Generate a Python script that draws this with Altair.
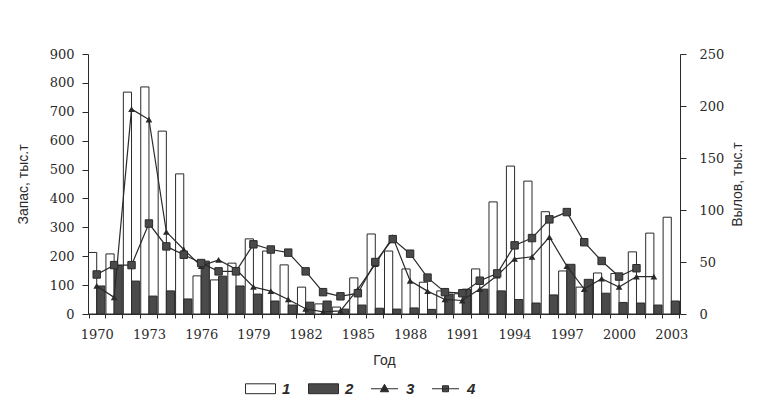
import altair as alt
import pandas as pd

years = list(range(1970, 2004))

# series 1: запас (white bars), тыс.т
stock1 = [213, 208, 768, 786, 633, 485, 132, 118, 176, 260, 218, 170, 93, 35, 24, 125, 277,
          218, 156, 110, 80, 70, 156, 388, 512, 460, 354, 149, 93, 142, 140, 215, 280, 335]
# series 2: запас (dark bars), тыс.т
stock2 = [97, 168, 114, 62, 80, 52, 183, 131, 97, 69, 45, 31, 41, 45, 17, 31, 20,
          17, 21, 16, 69, 86, 86, 80, 50, 38, 66, 172, 120, 72, 40, 38, 31, 45]
# series 3: вылов (triangles), 1970-2002
catch3 = [27, 16, 197, 187, 79, 62, 46, 52, 43, 26, 22, 14, 5, 2, 3, 24, 48,
          74, 32, 22, 14, 13, 24, 37, 53, 55, 74, 46, 24, 34, 26, 36, 36]
# series 4: вылов (squares), 1970-2001
catch4 = [38, 47, 47, 87, 65, 57, 49, 41, 41, 67, 62, 59, 41, 21, 17, 20, 50,
          72, 58, 35, 21, 20, 32, 39, 66, 73, 91, 98, 69, 51, 36, 44]

legend_labels = ["1", "2", "3", "4"]

bars_df = pd.DataFrame(
    [{"year": y, "series": "1", "value": v} for y, v in zip(years, stock1)]
    + [{"year": y, "series": "2", "value": v} for y, v in zip(years, stock2)]
)
lines_df = pd.DataFrame(
    [{"year": y, "series": "3", "value": v} for y, v in zip(years, catch3)]
    + [{"year": y, "series": "4", "value": v} for y, v in zip(years, catch4)]
)
legend_df = pd.DataFrame({"series": legend_labels})

INK = "#2a2a2a"
DARK = "#4a4a4a"
SERIF = "DejaVu Serif"
SANS = "Liberation Sans"

x_enc = alt.X(
    "year:O",
    title="Год",
    scale=alt.Scale(paddingInner=0.06, paddingOuter=0.03),
    axis=alt.Axis(
        labelExpr="(datum.value - 1970) % 3 == 0 ? datum.label : ''",
        labelAngle=0,
        tickBand="extent",
        tickSize=4,
        labelPadding=10,
        titlePadding=12,
    ),
)

bars = alt.Chart(bars_df).mark_bar(stroke=INK, strokeWidth=1).encode(
    x=x_enc,
    xOffset=alt.XOffset("series:N", scale=alt.Scale(paddingInner=0, paddingOuter=0)),
    y=alt.Y(
        "value:Q",
        title="Запас, тыс.т",
        scale=alt.Scale(domain=[0, 900], nice=False),
        axis=alt.Axis(values=list(range(0, 901, 100)), tickSize=6, labelPadding=8,
                      titlePadding=19, grid=False),
    ),
    fill=alt.condition("datum.series == '1'", alt.value("white"), alt.value(DARK)),
)

y_right = alt.Y(
    "value:Q",
    title="Вылов, тыс.т",
    scale=alt.Scale(domain=[0, 250], nice=False, zero=True),
    axis=alt.Axis(orient="right", values=list(range(0, 251, 50)), tickSize=6, labelPadding=13,
                  titleAngle=270, titlePadding=21, grid=False),
)

base_l = alt.Chart(lines_df)
line3 = base_l.transform_filter("datum.series == '3'").mark_line(color=INK, strokeWidth=1.2).encode(
    x=alt.X("year:O"), y=y_right)
pts3 = base_l.transform_filter("datum.series == '3'").mark_point(
    shape="triangle-up", filled=True, color=INK, size=45, opacity=1).encode(
    x=alt.X("year:O"), y=y_right)
line4 = base_l.transform_filter("datum.series == '4'").mark_line(color=INK, strokeWidth=1.2).encode(
    x=alt.X("year:O"), y=y_right)
pts4 = base_l.transform_filter("datum.series == '4'").mark_point(
    shape="square", filled=True, color=DARK, stroke=INK, strokeWidth=1, size=55, opacity=1).encode(
    x=alt.X("year:O"), y=y_right)

rect_path = "M-1,-0.33H1V0.33H-1Z"
tri_path = "M-0.9,0H0.9M0,-0.3L0.28,0.2H-0.28Z"
sq_path = "M-0.9,0H0.9M-0.2,-0.2H0.2V0.2H-0.2Z"

leg = alt.Legend(
    title=None,
    orient="none",
    legendX=157,
    legendY=319,
    direction="horizontal",
    symbolSize=900,
    symbolOpacity=1,
    symbolStrokeWidth=1,
    labelFont=SANS,
    labelFontSize=15,
    labelFontStyle="italic",
    labelFontWeight="bold",
    labelColor=INK,
    labelOffset=6,
    columnPadding=15,
)

legend_layer = alt.Chart(legend_df).mark_point(filled=True, opacity=0, strokeWidth=1).encode(
    shape=alt.Shape(
        "series:N",
        scale=alt.Scale(domain=legend_labels, range=[rect_path, rect_path, tri_path, sq_path]),
        legend=leg,
    ),
    fill=alt.Fill(
        "series:N",
        scale=alt.Scale(domain=legend_labels, range=["white", DARK, INK, DARK]),
        legend=leg,
    ),
    stroke=alt.Stroke(
        "series:N",
        scale=alt.Scale(domain=legend_labels, range=[INK, INK, INK, INK]),
        legend=leg,
    ),
)

right = alt.layer(line3, pts3, line4, pts4, legend_layer)

chart = alt.layer(bars, right).resolve_scale(y="independent").properties(
    width=592,
    height=260,
    padding={"left": 8, "top": 40, "right": 5, "bottom": 5},
    background="white",
).configure_view(stroke=None).configure_axis(
    domainColor=INK,
    tickColor=INK,
    labelColor=INK,
    titleColor=INK,
    labelFont=SERIF,
    labelFontSize=13,
    titleFont=SANS,
    titleFontSize=14,
    titleFontWeight="normal",
)

chart.save("out.html", embed_options={"renderer": "svg", "actions": False})
